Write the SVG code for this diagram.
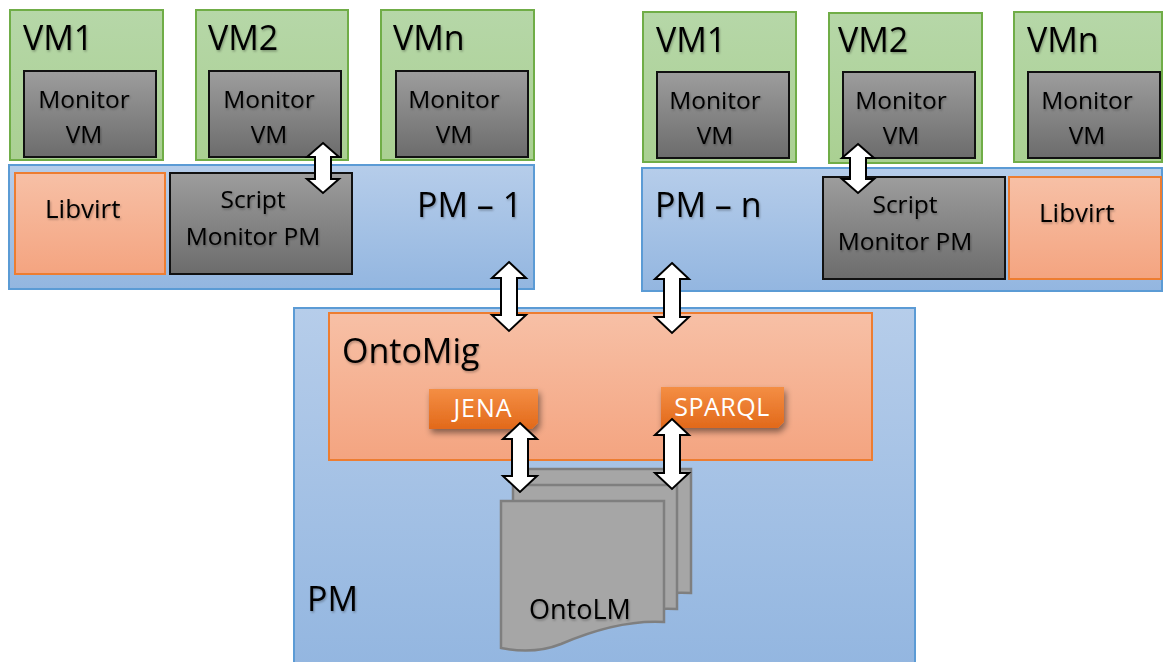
<svg xmlns="http://www.w3.org/2000/svg" width="1164" height="662" viewBox="0 0 1164 662">
<defs>
<linearGradient id="gGreen" x1="0" y1="0" x2="0" y2="1"><stop offset="0" stop-color="#b6d7a8"/><stop offset="1" stop-color="#aad092"/></linearGradient>
<linearGradient id="gGray" x1="0" y1="0" x2="0" y2="1"><stop offset="0" stop-color="#9d9d9d"/><stop offset="1" stop-color="#6c6c6c"/></linearGradient>
<linearGradient id="gBlue" x1="0" y1="0" x2="0" y2="1"><stop offset="0" stop-color="#b6cdea"/><stop offset="1" stop-color="#93b6e0"/></linearGradient>
<linearGradient id="gOrange" x1="0" y1="0" x2="0" y2="1"><stop offset="0" stop-color="#f7c0a6"/><stop offset="1" stop-color="#f4a480"/></linearGradient>
<linearGradient id="gTag" x1="0" y1="0" x2="0" y2="1"><stop offset="0" stop-color="#f48e44"/><stop offset="1" stop-color="#e2691a"/></linearGradient>
<filter id="shadow" x="-20%" y="-30%" width="140%" height="170%"><feDropShadow dx="2" dy="4" stdDeviation="3" flood-color="#000" flood-opacity="0.45"/></filter>
<filter id="tshadow" x="-5%" y="-10%" width="110%" height="130%"><feDropShadow dx="1" dy="1.5" stdDeviation="1" flood-color="#000" flood-opacity="0.3"/></filter>
</defs>
<style>
.vm{fill:url(#gGreen);stroke:#70ad47;stroke-width:2}
.mon{fill:url(#gGray);stroke:#111;stroke-width:2}
.pm{fill:url(#gBlue);stroke:#5b9bd5;stroke-width:2}
.lib{fill:url(#gOrange);stroke:#ed7d31;stroke-width:2}
.tag{fill:url(#gTag);filter:url(#shadow)}
.doc{fill:#a6a6a6;stroke:#7f7f7f;stroke-width:2.5}
.arr{fill:#fff;stroke:#000;stroke-width:2;stroke-linejoin:miter}
text{font-family:"Open Sans","Liberation Sans",sans-serif;fill:#000;filter:url(#tshadow)}
.big{font-size:34px}
.mid{font-size:24.5px}
.lbl{font-size:26px}
.c{text-anchor:middle}
.w{fill:#fff;font-size:25px;text-anchor:middle;filter:none}
</style>

<!-- Left physical machine -->
<g id="pm1">
<rect class="pm" x="9" y="165" width="525" height="124"/>
<text class="big" x="417" y="217">PM – 1</text>
</g>
<g id="vm1-left">
<rect class="vm" x="10" y="10" width="153" height="150"/>
<text class="big" x="23" y="50">VM1</text>
<rect class="mon" x="24" y="71" width="132" height="86"/>
<text class="mid c" x="84" y="108">Monitor</text>
<text class="mid c" x="84" y="143">VM</text>
</g>
<g id="vm2-left">
<rect class="vm" x="196" y="10" width="152" height="150"/>
<text class="big" x="208" y="50">VM2</text>
<rect class="mon" x="209" y="71" width="132" height="86"/>
<text class="mid c" x="269" y="108">Monitor</text>
<text class="mid c" x="269" y="143">VM</text>
</g>
<g id="vmn-left">
<rect class="vm" x="381" y="10" width="153" height="150"/>
<text class="big" x="393" y="50">VMn</text>
<rect class="mon" x="396" y="71" width="132" height="86"/>
<text class="mid c" x="454" y="108">Monitor</text>
<text class="mid c" x="454" y="143">VM</text>
</g>
<g id="libvirt-left">
<rect class="lib" x="15" y="173" width="150" height="101"/>
<text class="lbl" x="45" y="218">Libvirt</text>
</g>
<g id="script-left">
<rect class="mon" x="170" y="173" width="182" height="101"/>
<text class="mid c" x="253" y="208">Script</text>
<text class="mid c" x="253" y="245">Monitor PM</text>
</g>

<!-- Right physical machine -->
<g id="pmn">
<rect class="pm" x="642" y="168" width="520" height="123"/>
<text class="big" x="655" y="217">PM – n</text>
</g>
<g id="vm1-right">
<rect class="vm" x="643" y="12" width="153" height="150"/>
<text class="big" x="656" y="52">VM1</text>
<rect class="mon" x="657" y="72" width="132" height="86"/>
<text class="mid c" x="715" y="109">Monitor</text>
<text class="mid c" x="715" y="144">VM</text>
</g>
<g id="vm2-right">
<rect class="vm" x="829" y="13" width="153" height="150"/>
<text class="big" x="838" y="52">VM2</text>
<rect class="mon" x="843" y="72" width="132" height="86"/>
<text class="mid c" x="901" y="109">Monitor</text>
<text class="mid c" x="901" y="144">VM</text>
</g>
<g id="vmn-right">
<rect class="vm" x="1014" y="12" width="148" height="150"/>
<text class="big" x="1027" y="52">VMn</text>
<rect class="mon" x="1028" y="72" width="132" height="86"/>
<text class="mid c" x="1087" y="109">Monitor</text>
<text class="mid c" x="1087" y="144">VM</text>
</g>
<g id="script-right">
<rect class="mon" x="823" y="177" width="182" height="102"/>
<text class="mid c" x="905" y="213">Script</text>
<text class="mid c" x="905" y="250">Monitor PM</text>
</g>
<g id="libvirt-right">
<rect class="lib" x="1009" y="177" width="152" height="102"/>
<text class="lbl" x="1039" y="222">Libvirt</text>
</g>

<!-- Central PM -->
<g id="pm">
<rect class="pm" x="294" y="308" width="621" height="360"/>
<text class="big" x="307" y="611">PM</text>
</g>
<g id="ontomig">
<rect class="lib" x="329" y="313" width="543" height="147"/>
<text class="big" x="342" y="363">OntoMig</text>
</g>
<g id="jena">
<polygon class="tag" points="429,389 538,389 538,423 532,429 429,429"/>
<text class="w" x="483" y="417" letter-spacing="1">JENA</text>
</g>
<g id="sparql">
<polygon class="tag" points="661,387 784,387 784,422 778,428 661,428"/>
<text class="w" x="722" y="416" letter-spacing="0.5">SPARQL</text>
</g>
<g id="ontolm">
<path class="doc" d="M527,469 h164 v124 C658,591 622,600 587,615 C567,623 547,623 527,619 Z"/>
<path class="doc" d="M513,485 h164 v124 C644,607 608,616 573,631 C553,639 533,639 513,635 Z"/>
<path class="doc" d="M501,501 h163 v121 C631,620 596,629 561,644 C541,652 521,652 501,648 Z"/>
<text x="529" y="619" font-size="27">OntoLM</text>
</g>

<!-- Connectors -->
<g id="connectors">
<polygon class="arr" points="323,143 339,157 331,157 331,179 339,179 323,193 307,179 315,179 315,157 307,157"/>
<polygon class="arr" points="858,144 874,158 866,158 866,179 874,179 858,193 842,179 850,179 850,158 842,158"/>
<polygon class="arr" points="509,262 526,278 517,278 517,315 526,315 509,331 492,315 501,315 501,278 492,278"/>
<polygon class="arr" points="672,263 689,279 680,279 680,317 689,317 672,333 655,317 664,317 664,279 655,279"/>
<polygon class="arr" points="520,423 537,439 528,439 528,476 537,476 520,492 503,476 512,476 512,439 503,439"/>
<polygon class="arr" points="672,419 689,435 680,435 680,473 689,473 672,489 655,473 664,473 664,435 655,435"/>
</g>
</svg>
